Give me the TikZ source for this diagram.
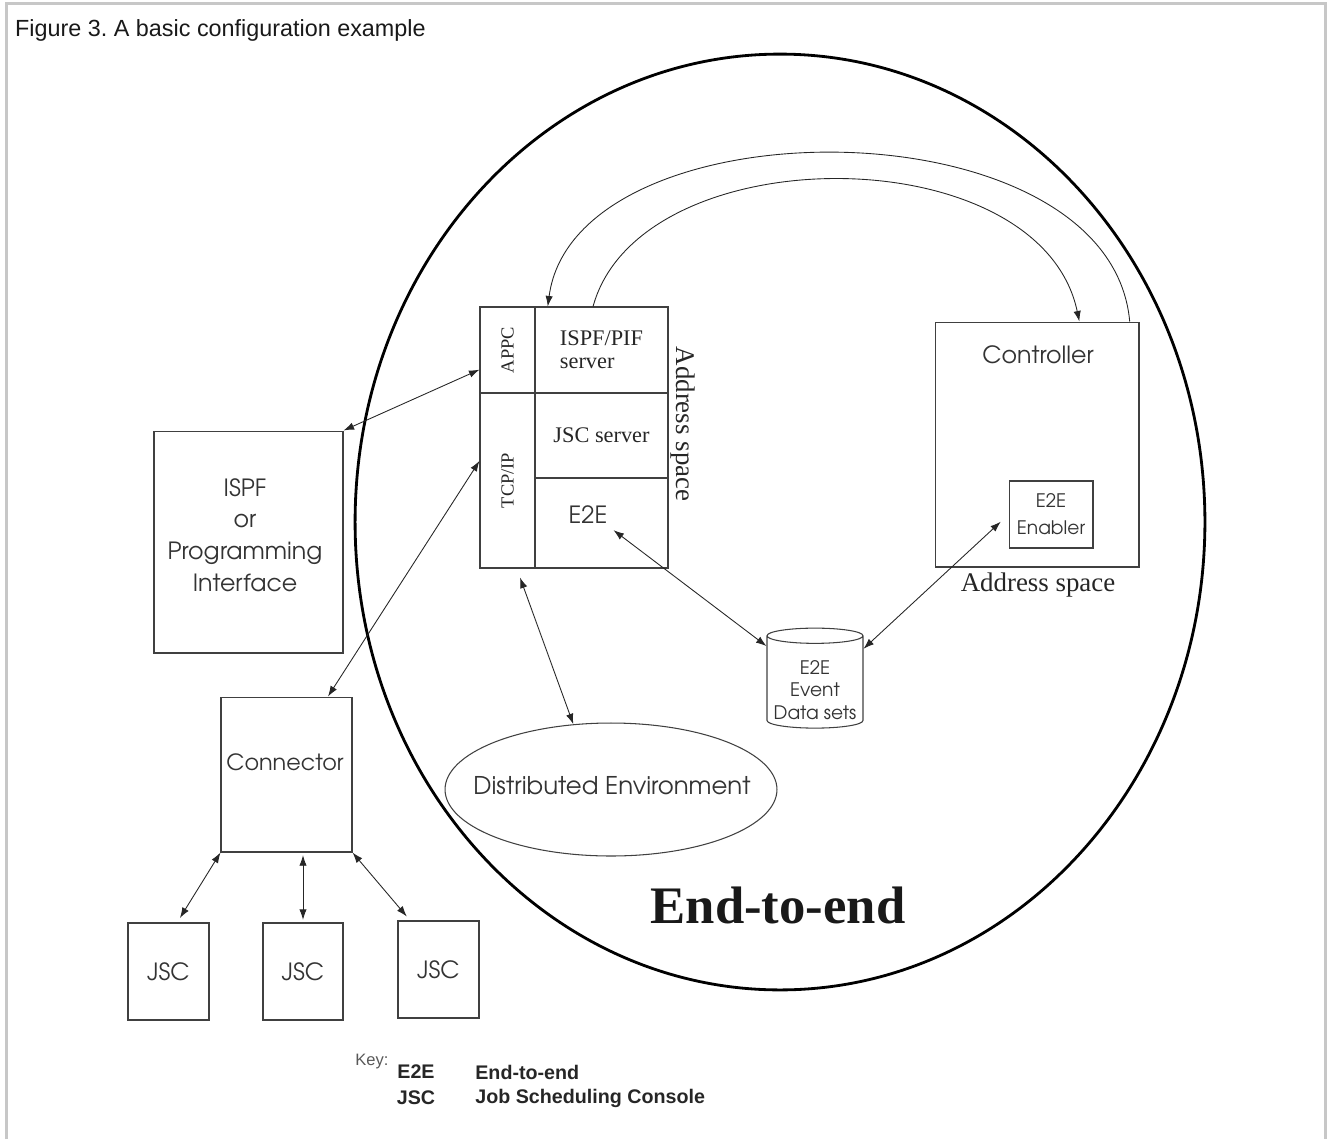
\documentclass[tikz,border=0pt]{standalone}
\usepackage{fontspec}
\setmainfont{Liberation Serif}
\newfontfamily\gothic{TeX Gyre Adventor}
\newfontfamily\arial{Liberation Sans}
\usetikzlibrary{arrows.meta,calc,shapes.geometric}
\frenchspacing

\tikzset{
  box/.style={draw=black!75, line width=0.6pt, inner sep=0pt},
  link/.style={<->, >={Latex[length=6pt,width=4.2pt]}, draw=black!85, line width=0.5pt},
  swing/.style={->, >={Latex[length=6pt,width=4.2pt]}, draw=black!85, line width=0.5pt},
  bigtext/.style={font=\gothic\fontsize{13.5}{18.1}\selectfont, text=black!80},
  smalltext/.style={font=\gothic\fontsize{10.6}{12.8}\selectfont, text=black!80},
  seriftext/.style={font=\fontsize{12.7}{13.2}\selectfont, text=black!85},
  celltext/.style={font=\fontsize{10.5}{12}\selectfont, text=black!85},
  addrtext/.style={font=\fontsize{15.3}{17}\selectfont, text=black!85},
  keytext/.style={font=\arial\bfseries\fontsize{11.2}{13}\selectfont, text=black!85, inner sep=0pt},
}

\begin{document}
\begin{tikzpicture}[x=0.02cm, y=-0.02cm]
			\useasboundingbox (0,0) rectangle (1327,1139);
			%%%%% FRAME %%%%%
			\draw[line width=1.7pt, draw=black!22] (6.5,1139) -- (6.5,3.5) -- (1325.5,3.5) -- (1325.5,1139);
			\node[anchor=base west, font=\arial\fontsize{13.3}{16}\selectfont, text=black!90] (title) at (9,36) {Figure 3. A basic configuration example};
			
			%%%%% END-TO-END REGION %%%%%
			\draw[line width=1.6pt] (780,522) ellipse [x radius=8.5cm, y radius=9.36cm];
			\node[font=\bfseries\fontsize{30}{32}\selectfont, text=black!90] (e2ebig) at (778,905) {End-to-end};
			
			%%%%% HOST ADDRESS SPACE %%%%%
			\node[box, minimum width=1.10cm, minimum height=1.72cm] (appc) at (507.5,350) {};
			\node[box, minimum width=1.10cm, minimum height=3.50cm] (tcpip) at (507.5,480.5) {};
			\node[box, minimum width=2.66cm, minimum height=1.72cm, seriftext, align=left] (ispfpif) at (601.5,350) {ISPF/PIF\\server};
			\node[box, minimum width=2.66cm, minimum height=1.70cm, seriftext] (jscsrv) at (601.5,435.5) {JSC server};
			\node[box, minimum width=2.66cm, minimum height=1.80cm] (e2ecell) at (601.5,523) {};
			\node[celltext, rotate=90] (appctext) at (appc) {APPC};
			\node[celltext, rotate=90] (tcpiptext) at (tcpip) {TCP/IP};
			\node[bigtext] (e2etext) at (588,515) {E2E};
			\node[addrtext, rotate=-90] (hostaddr) at (683,424) {Address space};
			
			%%%%% CONTROLLER %%%%%
			\node[box, minimum width=4.08cm, minimum height=4.90cm] (ctrl) at (1037,444.5) {};
			\node[bigtext] (ctrltext) at (1038,355) {Controller};
			\node[box, minimum width=1.68cm, minimum height=1.34cm, smalltext, align=center, font=\gothic\fontsize{10.6}{15.3}\selectfont] (enab) at (1051,514.5) {E2E\\Enabler};
			\node[addrtext] (ctrladdr) at (1038,585) {Address space};
			
			%%%%% DATA SETS, DISTRIBUTED %%%%%
			\node[cylinder, shape border rotate=90, draw=black!75, line width=0.6pt, aspect=1.3, minimum width=1.92cm, minimum height=2cm] (data) at (815,684) {};
			\node[smalltext, align=center] (datatext) at (815,690) {E2E\\Event\\Data sets};
			\node[ellipse, draw=black!75, line width=0.6pt, inner sep=0pt, minimum width=6.64cm, minimum height=2.66cm] (dist) at (611,789.5) {};
			\node[bigtext, font=\gothic\fontsize{13.9}{16}\selectfont] (disttext) at (612,786) {Distributed Environment};
			
			%%%%% OUTSIDE %%%%%
			\node[box, minimum width=3.78cm, minimum height=4.44cm] (ispf) at (248.5,542) {};
			\node[bigtext, align=center] (ispftext) at (245,535) {ISPF\\or\\Programming\\Interface};
			\node[box, minimum width=2.62cm, minimum height=3.10cm] (conn) at (286.5,774.5) {};
			\node[bigtext, font=\gothic\fontsize{12.7}{15}\selectfont] (conntext) at (285,762) {Connector};
			\node[box, bigtext, minimum width=1.62cm, minimum height=1.94cm] (jsc1) at (168.5,971.5) {JSC};
			\node[box, bigtext, minimum width=1.60cm, minimum height=1.94cm] (jsc2) at (303,971.5) {JSC};
			\node[box, bigtext, minimum width=1.62cm, minimum height=1.94cm] (jsc3) at (438.5,969.5) {JSC};
			
			%%%%% CONNECTORS %%%%%
			\draw[link] (ispf.north east) -- (appc.215);
			\draw[link] (conn.62) -- (tcpip.145);
			\draw[link, shorten >=3pt] (conn.south west) -- (jsc1.80);
			\draw[link, shorten <=1.5pt, shorten >=1.5pt] (jsc2.north |- conn.south) -- (jsc2.north);
			\draw[link, shorten >=3pt] (conn.south east) -- (jsc3.120);
			\draw[link, shorten <=5.5pt] (tcpip.276) -- (dist.120);
			\draw[link] (e2etext.south east) -- (data.142);
			\draw[link, shorten <=6pt] (enab.west) -- (data.36);
			\draw[swing] (ctrl.53) .. controls (1110,100) and (575,100) .. (ispfpif.141);
			\draw[swing] (ispfpif.101) .. controls (640,135) and (1040,135) .. (ctrl.71);
			
			%%%%% KEY %%%%%
			\node[font=\arial\fontsize{9.4}{11}\selectfont, text=black!65] (key) at (372,1062) {Key:};
			\node[keytext] (keyea) at (416,1072) {E2E};
			\node[keytext, anchor=west] (keyeb) at (475,1072) {End-to-end};
			\node[keytext] (keyja) at (416,1098) {JSC};
			\node[keytext, anchor=west] (keyjb) at (475,1098) {Job Scheduling Console};
\end{tikzpicture}
\end{document}
